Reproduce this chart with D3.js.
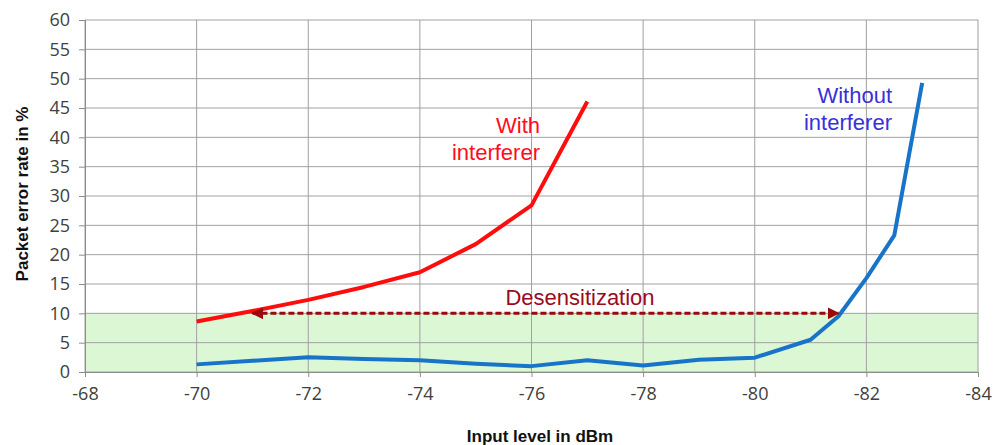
<!DOCTYPE html>
<html>
<head>
<meta charset="utf-8">
<script src="https://cdn.jsdelivr.net/npm/d3@7"></script>
<style>
  body { margin: 0; background: #fff; }
  .tick text { font-family: "Open Sans", sans-serif; font-size: 18px; fill: #404040; }
</style>
</head>
<body>
<script>
// input level (dBm) and packet error rate (%)
var withoutX = [-70, -71, -72, -73, -74, -75, -76, -77, -78, -79, -80, -81, -81.5, -82, -82.5, -83];
var withoutY = [1.3, 1.9, 2.5, 2.2, 2.0, 1.4, 1.0, 2.0, 1.1, 2.1, 2.45, 5.5, 9.5, 16.0, 23.3, 49.3];
var withX = [-70, -71, -72, -73, -74, -75, -76, -77];
var withY = [8.6, 10.4, 12.3, 14.5, 17.0, 21.8, 28.4, 46.1];
var xTicks = [-68, -70, -72, -74, -76, -78, -80, -82, -84];
var yTicks = [0, 5, 10, 15, 20, 25, 30, 35, 40, 45, 50, 55, 60];
var bandTop = 10;
var arrowFrom = -81.5, arrowTo = -71, arrowLevel = 10;

var width = 1002, height = 445;
var margin = {left: 85, right: 24, top: 20, bottom: 73};

var svg = d3.select('body').append('svg')
    .attr('width', width)
    .attr('height', height);

var x = d3.scaleLinear().domain([-68, -84]).range([margin.left, width - margin.right]);
var y = d3.scaleLinear().domain([0, 60]).range([height - margin.bottom, margin.top]);

// green acceptance band
svg.append('rect')
    .attr('x', x(-68)).attr('y', y(bandTop))
    .attr('width', x(-84) - x(-68)).attr('height', y(0) - y(bandTop))
    .attr('fill', '#dcf7d4');

// grid
svg.append('g').selectAll('line').data(yTicks).enter().append('line')
    .attr('x1', x(-68)).attr('x2', x(-84))
    .attr('y1', function(d) { return y(d); }).attr('y2', function(d) { return y(d); })
    .attr('stroke', '#a0a0a0').attr('stroke-width', 1);
svg.append('g').selectAll('line').data(xTicks).enter().append('line')
    .attr('y1', y(0)).attr('y2', y(60))
    .attr('x1', function(d) { return x(d); }).attr('x2', function(d) { return x(d); })
    .attr('stroke', '#a0a0a0').attr('stroke-width', 1);

// axes
var yAxis = svg.append('g').attr('transform', 'translate(' + x(-68) + ',0)')
    .call(d3.axisLeft(y).tickValues(yTicks).tickSize(6).tickPadding(9));
var xAxis = svg.append('g').attr('transform', 'translate(0,' + y(0) + ')')
    .call(d3.axisBottom(x).tickValues(xTicks).tickSize(5).tickPadding(8)
        .tickFormat(function(d) { return d; }));
[xAxis, yAxis].forEach(function(a) {
    a.select('.domain').attr('stroke', '#8c8c8c');
    a.selectAll('.tick line').attr('stroke', '#8c8c8c');
});
xAxis.selectAll('.tick text').attr('dy', '0.85em');

// lines
var line = d3.line().x(function(d) { return x(d[0]); }).y(function(d) { return y(d[1]); });
svg.append('path')
    .datum(withX.map(function(d, i) { return [d, withY[i]]; }))
    .attr('d', line).attr('fill', 'none')
    .attr('stroke', '#ff0d0d').attr('stroke-width', 4).attr('stroke-linejoin', 'round');
svg.append('path')
    .datum(withoutX.map(function(d, i) { return [d, withoutY[i]]; }))
    .attr('d', line).attr('fill', 'none')
    .attr('stroke', '#1874c8').attr('stroke-width', 4).attr('stroke-linejoin', 'round');

// desensitization arrow
var defs = svg.append('defs');
defs.append('marker').attr('id', 'ah')
    .attr('viewBox', '0 0 10 10').attr('refX', 9).attr('refY', 5)
    .attr('markerWidth', 4).attr('markerHeight', 4).attr('orient', 'auto-start-reverse')
    .attr('markerUnits', 'strokeWidth')
    .append('path').attr('d', 'M0,0 L10,5 L0,10 Z').attr('fill', '#9b0a0a');
svg.append('line')
    .attr('x1', x(arrowTo)).attr('x2', x(arrowFrom))
    .attr('y1', y(arrowLevel)).attr('y2', y(arrowLevel))
    .attr('stroke', '#9b0a0a').attr('stroke-width', 3)
    .attr('stroke-dasharray', '6,3')
    .attr('marker-start', 'url(#ah)').attr('marker-end', 'url(#ah)');

svg.append('text')
    .attr('x', 580).attr('y', 305)
    .attr('text-anchor', 'middle')
    .attr('font-family', 'Liberation Sans, Arial, sans-serif').attr('font-size', 22)
    .attr('fill', '#9b0a1e').text('Desensitization');

// series labels
var lab1 = svg.append('text').attr('text-anchor', 'end')
    .attr('font-family', 'Liberation Sans, Arial, sans-serif').attr('font-size', 22)
    .attr('fill', '#ff0d1d');
lab1.append('tspan').attr('x', 540).attr('y', 133).text('With');
lab1.append('tspan').attr('x', 540).attr('y', 160).text('interferer');

var lab2 = svg.append('text').attr('text-anchor', 'end')
    .attr('font-family', 'Liberation Sans, Arial, sans-serif').attr('font-size', 22)
    .attr('fill', '#3a30d8');
lab2.append('tspan').attr('x', 892).attr('y', 103).text('Without');
lab2.append('tspan').attr('x', 892).attr('y', 130).text('interferer');

// axis titles
svg.append('text')
    .attr('x', 540).attr('y', 442).attr('text-anchor', 'middle')
    .attr('font-family', 'Liberation Sans, Arial, sans-serif').attr('font-size', 17)
    .attr('font-weight', 'bold').attr('fill', '#111')
    .text('Input level in dBm');
svg.append('text')
    .attr('transform', 'translate(28,' + 194 + ') rotate(-90)')
    .attr('text-anchor', 'middle')
    .attr('font-family', 'Liberation Sans, Arial, sans-serif').attr('font-size', 17)
    .attr('font-weight', 'bold').attr('fill', '#111')
    .text('Packet error rate in %');
</script>
</body>
</html>
